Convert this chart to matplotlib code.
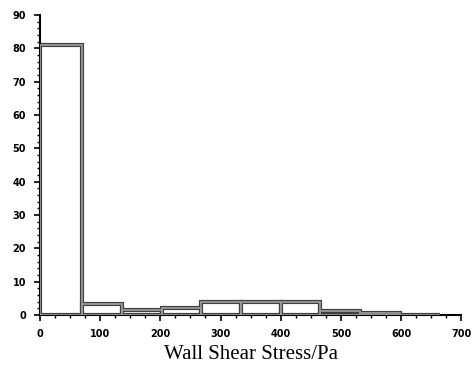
import matplotlib.pyplot as plt
from matplotlib.ticker import MultipleLocator

# bin edges (Pa) and percentage in each bin
bin_edges = [0, 70, 136, 202, 268, 334, 400, 466, 532, 598, 664]
heights = [81.0, 3.2, 1.5, 2.0, 3.8, 3.8, 3.8, 1.2, 0.5, 0.1]
x_ticks = [0, 100, 200, 300, 400, 500, 600, 700]
y_ticks = [0, 10, 20, 30, 40, 50, 60, 70, 80, 90]


def main():
    fig = plt.figure(figsize=(4.76, 3.72), dpi=100)
    ax = fig.add_axes([0.084, 0.153, 0.885, 0.807])

    lefts = bin_edges[:-1]
    widths = [b - a for a, b in zip(bin_edges[:-1], bin_edges[1:])]
    # dark outline underneath, lighter gray stroke on top
    ax.bar(lefts, heights, width=widths, align="edge", facecolor="white",
           edgecolor="#404040", linewidth=3.0, zorder=2)
    ax.bar(lefts, heights, width=widths, align="edge", facecolor="none",
           edgecolor="#999999", linewidth=1.3, zorder=3)

    ax.set_xlim(0, 700)
    ax.set_ylim(0, 90)
    ax.set_xticks(x_ticks)
    ax.set_yticks(y_ticks)
    ax.xaxis.set_minor_locator(MultipleLocator(25))
    ax.yaxis.set_minor_locator(MultipleLocator(2))
    ax.spines["top"].set_visible(False)
    ax.spines["right"].set_visible(False)
    for s in ("left", "bottom"):
        ax.spines[s].set_linewidth(1.5)
        ax.spines[s].set_color("black")
    ax.tick_params(which="major", length=4, width=1.2, labelsize=7, pad=6)
    ax.tick_params(which="minor", length=2, width=1)
    for lab in ax.get_xticklabels() + ax.get_yticklabels():
        lab.set_fontweight("bold")

    ax.set_xlabel("Wall Shear Stress/Pa", family="Liberation Serif",
                  fontsize=15, labelpad=4)
    fig.savefig("out.png")


if __name__ == "__main__":
    main()
